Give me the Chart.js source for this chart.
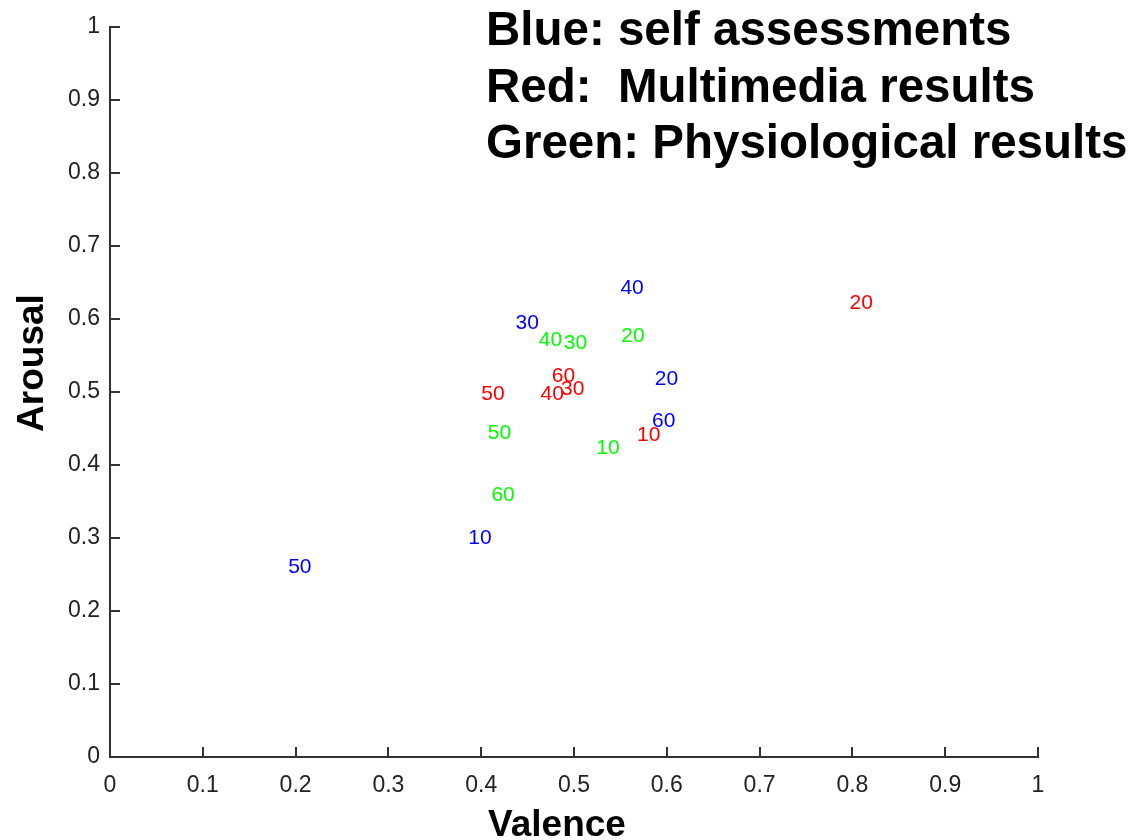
<!DOCTYPE html>
<html>
<head>
<meta charset="utf-8">
<script src="https://cdn.jsdelivr.net/npm/chart.js@4/dist/chart.umd.min.js"></script>
<style>
  body { margin: 0; background: #fff; }
  #wrap { width: 1136px; height: 840px; }
</style>
</head>
<body>
<div id="wrap"><canvas id="c"></canvas></div>
<script>
// names written at each point
const pointNames = ['10', '20', '30', '40', '50', '60'];

// blue - self assessments
const selfValence = [0.386, 0.587, 0.437, 0.550, 0.192, 0.584];
const selfArousal = [0.302, 0.519, 0.596, 0.644, 0.261, 0.462];
// red - multimedia results
const mediaValence = [0.568, 0.797, 0.486, 0.464, 0.400, 0.476];
const mediaArousal = [0.443, 0.623, 0.505, 0.498, 0.498, 0.523];
// green - physiological results
const physValence = [0.524, 0.551, 0.489, 0.462, 0.407, 0.411];
const physArousal = [0.425, 0.578, 0.568, 0.572, 0.445, 0.360];

const xTicks = [0, 0.1, 0.2, 0.3, 0.4, 0.5, 0.6, 0.7, 0.8, 0.9, 1];
const yTicks = [0, 0.1, 0.2, 0.3, 0.4, 0.5, 0.6, 0.7, 0.8, 0.9, 1];

const noteLines = ['Blue: self assessments', 'Red:  Multimedia results', 'Green: Physiological results'];

const FONT = '"Liberation Sans", Arial, Helvetica, sans-serif';
const AXIS = '#333';

function pts(xs, ys) {
     return xs.map((v, i) => ({ x: v, y: ys[i] }));
}

// draws the numbers where the points are
const textLabels = {
     id: 'textLabels',
     afterDatasetsDraw(chart) {
          const ctx = chart.ctx;
          ctx.save();
          ctx.font = '21px ' + FONT;
          ctx.textAlign = 'left';
          ctx.textBaseline = 'alphabetic';
          chart.data.datasets.forEach((ds, i) => {
               ctx.fillStyle = ds.borderColor;
               chart.getDatasetMeta(i).data.forEach((pt, j) => {
                    ctx.fillText(ds.names[j], pt.x, pt.y + 7);
               });
          });
          ctx.restore();
     }
};

// inward tick marks, axis titles, the note text
const extras = {
     id: 'extras',
     afterDraw(chart) {
          const { ctx, chartArea, scales: { x, y } } = chart;
          ctx.save();
          ctx.strokeStyle = AXIS;
          ctx.lineWidth = 2;
          ctx.beginPath();
          x.ticks.forEach(t => {
               const px = Math.round(x.getPixelForValue(t.value));
               ctx.moveTo(px, chartArea.bottom);
               ctx.lineTo(px, chartArea.bottom - 10);
          });
          y.ticks.forEach(t => {
               const py = Math.round(y.getPixelForValue(t.value));
               ctx.moveTo(chartArea.left, py);
               ctx.lineTo(chartArea.left + 10, py);
          });
          ctx.stroke();

          ctx.fillStyle = '#000';
          ctx.font = 'bold 37px ' + FONT;
          ctx.textAlign = 'center';
          ctx.textBaseline = 'alphabetic';
          ctx.fillText('Valence', 557, 836);

          ctx.save();
          ctx.translate(43, 363);
          ctx.rotate(-Math.PI / 2);
          ctx.fillText('Arousal', 0, 0);
          ctx.restore();

          ctx.font = 'bold 47.5px ' + FONT;
          ctx.textAlign = 'left';
          const base = [45, 102, 158];
          noteLines.forEach((s, i) => ctx.fillText(s, 486, base[i]));
          ctx.restore();
     }
};

new Chart(document.getElementById('c'), {
     type: 'scatter',
     data: {
          datasets: [
               { names: pointNames, data: pts(selfValence, selfArousal), borderColor: '#0000ff', backgroundColor: '#0000ff', pointRadius: 0 },
               { names: pointNames, data: pts(mediaValence, mediaArousal), borderColor: '#ff0000', backgroundColor: '#ff0000', pointRadius: 0 },
               { names: pointNames, data: pts(physValence, physArousal), borderColor: '#00ff00', backgroundColor: '#00ff00', pointRadius: 0 }
          ]
     },
     options: {
          responsive: true,
          maintainAspectRatio: false,
          animation: false,
          layout: { padding: { top: 27, right: 98, left: 0, bottom: 0 } },
          plugins: { legend: { display: false }, tooltip: { enabled: false } },
          scales: {
               x: {
                    type: 'linear', min: 0, max: 1,
                    afterBuildTicks: s => { s.ticks = xTicks.map(v => ({ value: v })); },
                    afterFit: s => { s.height = 83; },
                    grid: { display: false, drawTicks: false },
                    border: { display: true, color: AXIS, width: 2 },
                    ticks: { padding: 15, color: '#222', maxRotation: 0, autoSkip: false,
                         font: { family: FONT, size: 23 }, callback: v => String(v) }
               },
               y: {
                    type: 'linear', min: 0, max: 1,
                    afterBuildTicks: s => { s.ticks = yTicks.map(v => ({ value: v })); },
                    afterFit: s => { s.width = 110; },
                    grid: { display: false, drawTicks: false },
                    border: { display: true, color: AXIS, width: 2 },
                    ticks: { padding: 10, color: '#222', autoSkip: false,
                         font: { family: FONT, size: 23 }, callback: v => String(v) }
               }
          }
     },
     plugins: [textLabels, extras]
});
</script>
</body>
</html>
